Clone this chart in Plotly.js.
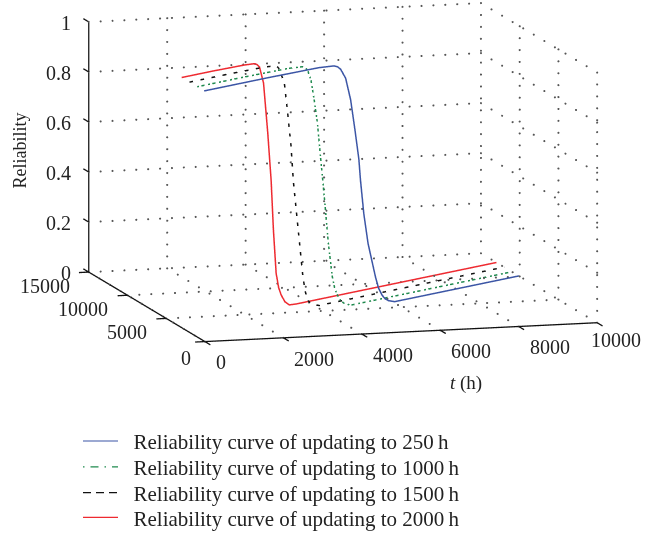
<!DOCTYPE html>
<html><head><meta charset="utf-8">
<script src="https://cdn.plot.ly/plotly-3.0.1.min.js"></script>
<style>html,body{margin:0;padding:0;background:#fff}</style></head>
<body><div id="chart" style="width:662px;height:534px"></div>
<script>
// ---- data ----
const seriesNames = ["\u2002Reliability curve of updating to 250\u2009h","\u2002Reliability curve of updating to 1000\u2009h","\u2002Reliability curve of updating to 1500\u2009h","\u2002Reliability curve of updating to 2000\u2009h"];
const seriesColors = ["#3b55a5","#1f8a4e","#111111","#ee2a30"];
const seriesDash = ["solid","dashdot","dash","solid"];

const tBlue  = [0,2000,3650,4126,4240,4338,4495,4653,4789,4915,4968,5073,5208,5442,5540,5650,5750,5861,6050,7000,8500,10000];
const yBlue  = [100,2100,3750,4226,4340,4438,4595,4753,4889,5015,5068,5173,5308,5542,5640,5750,5850,5961,6150,7100,8600,10100];
const rBlue  = [1,1,0.998,0.9925,0.986,0.9734,0.9337,0.8437,0.721,0.599,0.5115,0.3766,0.254,0.115,0.068,0.037,0.019,0.009,0,0,0,0];

const tGreen = [0,1500,2900,3347,3425,3505,3612,3716,3820,3905,4000,4085,4167,4293,4370,4451,4550,4662,4874,6500,8500,10000];
const yGreen = [1000,2500,3900,4347,4425,4505,4612,4716,4820,4905,5000,5085,5167,5293,5370,5451,5550,5662,5874,7500,9500,11000];
const rGreen = [1,1,0.998,0.993,0.987,0.976,0.934,0.852,0.756,0.635,0.508,0.387,0.265,0.129,0.08,0.052,0.028,0.0135,0,0,0,0];

const tBlack = [0,1200,2400,2754,2805,2858,3016,3120,3227,3300,3435,3593,3670,3751,3850,3960,4120,6000,8000,10000];
const yBlack = [2000,3200,4400,4754,4805,4858,5016,5120,5227,5300,5435,5593,5670,5751,5850,5960,6120,8000,10000,12000];
const rBlack = [1,1,0.998,0.994,0.987,0.977,0.917,0.796,0.661,0.52,0.346,0.143,0.072,0.032,0.016,0.007,0,0,0,0];

const tRed   = [0,1000,2000,2315,2395,2473,2600,2735,2842,2915,3000,3080,3158,3280,3420,3630,5500,7500,10000];
const yRed   = [3000,4000,5000,5315,5395,5473,5600,5735,5842,5915,6000,6080,6158,6280,6420,6630,8500,10500,13000];
const rRed   = [1,1,0.998,0.995,0.989,0.977,0.91,0.706,0.513,0.313,0.14,0.08,0.049,0.018,0.002,0,0,0,0];

const tTicks = [0,2000,4000,6000,8000,10000];
const yTicks = [0,5000,10000,15000];
const zTicks = [0,0.2,0.4,0.6,0.8,1];
const zTickText = ["0","0.2","0.4","0.6","0.8","1"];

// ---- view set-up ----
const FONT = "Liberation Serif, serif";
const zoom = 1.877;
const aspect = {x:zoom*492.7/500, y:zoom*486.1/500, z:zoom*306.8/500};
const dir = [-0.2689,-0.9481,0.1696], rv=[0.9621,-0.2728,0], uv=[0.0463,0.1632,0.9855];
const shiftR = 13/288, shiftU = 95.5/274, D = 1.6;
const ctr = [0,1,2].map(i=>-shiftR*rv[i]-shiftU*uv[i]);
const eye = [0,1,2].map(i=>ctr[i]+D*dir[i]);

// ---- dotted grid ----
function dots(p,q,n,out){for(let i=0;i<=n;i++){const f=i/n;out.x.push(p[0]+(q[0]-p[0])*f);out.y.push(p[1]+(q[1]-p[1])*f);out.z.push(p[2]+(q[2]-p[2])*f);}}
const g={x:[],y:[],z:[]};
const T=10000,Y=15000;
zTicks.slice(1).forEach(z=>{dots([0,Y,z],[T,Y,z],33,g);dots([T,0,z],[T,Y,z],11,g);});
tTicks.slice(1).forEach(t=>{dots([t,Y,0],[t,Y,1],21,g);});
yTicks.slice(0,-1).forEach(y=>{dots([T,y,0],[T,y,1],21,g);});
tTicks.forEach(t=>{dots([t,0,0],[t,Y,0],11,g);});
yTicks.slice(1).forEach(y=>{dots([0,y,0],[T,y,0],33,g);});

const traces=[];
traces.push({type:"scatter3d",mode:"markers",x:g.x,y:g.y,z:g.z,showlegend:false,hoverinfo:"skip",marker:{size:1.2,color:"#555555",opacity:1,line:{width:0}}});

// axes and ticks
function seg(xs,ys,zs,w){traces.push({type:"scatter3d",mode:"lines",x:xs,y:ys,z:zs,showlegend:false,hoverinfo:"skip",line:{color:"#111111",width:w}});}
const ax={x:[],y:[],z:[]};
function addSeg(p,q){ax.x.push(p[0],q[0],null);ax.y.push(p[1],q[1],null);ax.z.push(p[2],q[2],null);}
addSeg([0,0,0],[T,0,0]);addSeg([0,0,0],[0,Y,0]);addSeg([0,Y,0],[0,Y,1]);
tTicks.forEach(t=>addSeg([t,0,0],[t,-700,0]));
yTicks.forEach(y=>addSeg([0,y,0],[-250,y,0]));
zTicks.forEach(z=>addSeg([0,Y,z],[0,Y+700,z]));
seg(ax.x,ax.y,ax.z,2.6);

// curves
const legendIds=["legend","legend2","legend3","legend4"];
[[tBlue,yBlue,rBlue],[tGreen,yGreen,rGreen],[tBlack,yBlack,rBlack],[tRed,yRed,rRed]].forEach((s,i)=>{
  traces.push({type:"scatter3d",mode:"lines",name:seriesNames[i],x:s[0],y:s[1],z:s[2],hoverinfo:"skip",legend:legendIds[i],showlegend:true,
    line:{color:seriesColors[i],width:3,dash:seriesDash[i]}});
});

// tick labels (real text anchored to the data scales)
const tf={family:FONT,size:20,color:"#222"};
const anns=[];
tTicks.forEach((t,i)=>{
  const dx=i===0?16:(i===5?19:31), dy=i===0?-20:(i===5?-17:-21);
  anns.push({x:t,y:0,z:0,text:String(t),showarrow:false,xanchor:"center",yanchor:"middle",xshift:dx,yshift:dy,font:tf});
});
yTicks.forEach((y,i)=>{
  anns.push({x:0,y:y,z:0,text:String(y),showarrow:false,xanchor:"right",yanchor:"middle",xshift:i===0?-12:-17,yshift:i===0?-16:-14,font:tf});
});
zTicks.forEach((z,i)=>{
  anns.push({x:0,y:Y,z:z,text:zTickText[i],showarrow:false,xanchor:"right",yanchor:"middle",xshift:-16,yshift:-1,font:tf});
});

const hidden={showgrid:false,zeroline:false,showline:false,showticklabels:false,ticks:"",showspikes:false,showbackground:false,title:{text:""}};
function leg(cy){return {x:78/662,y:(534-cy)/534,xanchor:"left",yanchor:"middle",bgcolor:"rgba(0,0,0,0)",borderwidth:0,font:{family:FONT,size:21,color:"#222"},itemwidth:35};}
const layout={
  width:662,height:534,margin:{l:0,r:0,t:0,b:0},paper_bgcolor:"#fff",hovermode:false,
  font:{family:FONT,color:"#222",size:18},
  scene:{domain:{x:[0,1],y:[0,1]},
    xaxis:Object.assign({range:[-1000,11000],type:"linear"},hidden),
    yaxis:Object.assign({range:[-1000,16000],type:"linear"},hidden),
    zaxis:Object.assign({range:[-0.1,1.1],type:"linear"},hidden),
    aspectmode:"manual",aspectratio:aspect,
    camera:{eye:{x:eye[0],y:eye[1],z:eye[2]},center:{x:ctr[0],y:ctr[1],z:ctr[2]},up:{x:0,y:0,z:1},projection:{type:"orthographic"}},
    annotations:anns},
  legend:leg(441),legend2:leg(467),legend3:leg(493),legend4:leg(518),
  annotations:[
    {xref:"paper",yref:"paper",x:20/662,y:(534-152)/534,xanchor:"center",yanchor:"middle",text:"Reliability",textangle:-90,showarrow:false,font:{family:FONT,size:18,color:"#222"}},
    {xref:"paper",yref:"paper",x:466/662,y:(534-387)/534,xanchor:"center",yanchor:"middle",text:"<i>t</i> (h)",showarrow:false,font:{family:FONT,size:19,color:"#222"}}
  ]
};
Plotly.newPlot("chart",traces,layout,{displayModeBar:false}).then(()=>{
  document.querySelectorAll(".legendlines path").forEach(p=>{
    p.style.strokeWidth="1.2px";
    const d=p.style.strokeDasharray;
    if(d&&d!=="none"){
      const c=p.style.stroke;
      p.style.strokeDasharray=c.indexOf("31")>=0?"1.5px,6px,8px,6px":"8px,5px";
    }
  });
  legendIds.forEach(id=>{
    const el=document.querySelector("g."+id);
    if(!el)return;
    const m=/translate\(([-\d.]+)[ ,]+([-\d.]+)\)/.exec(el.getAttribute("transform")||"");
    if(m)el.setAttribute("transform","translate("+m[1]+","+(parseFloat(m[2])+4.5)+")");
  });
});
</script></body></html>
